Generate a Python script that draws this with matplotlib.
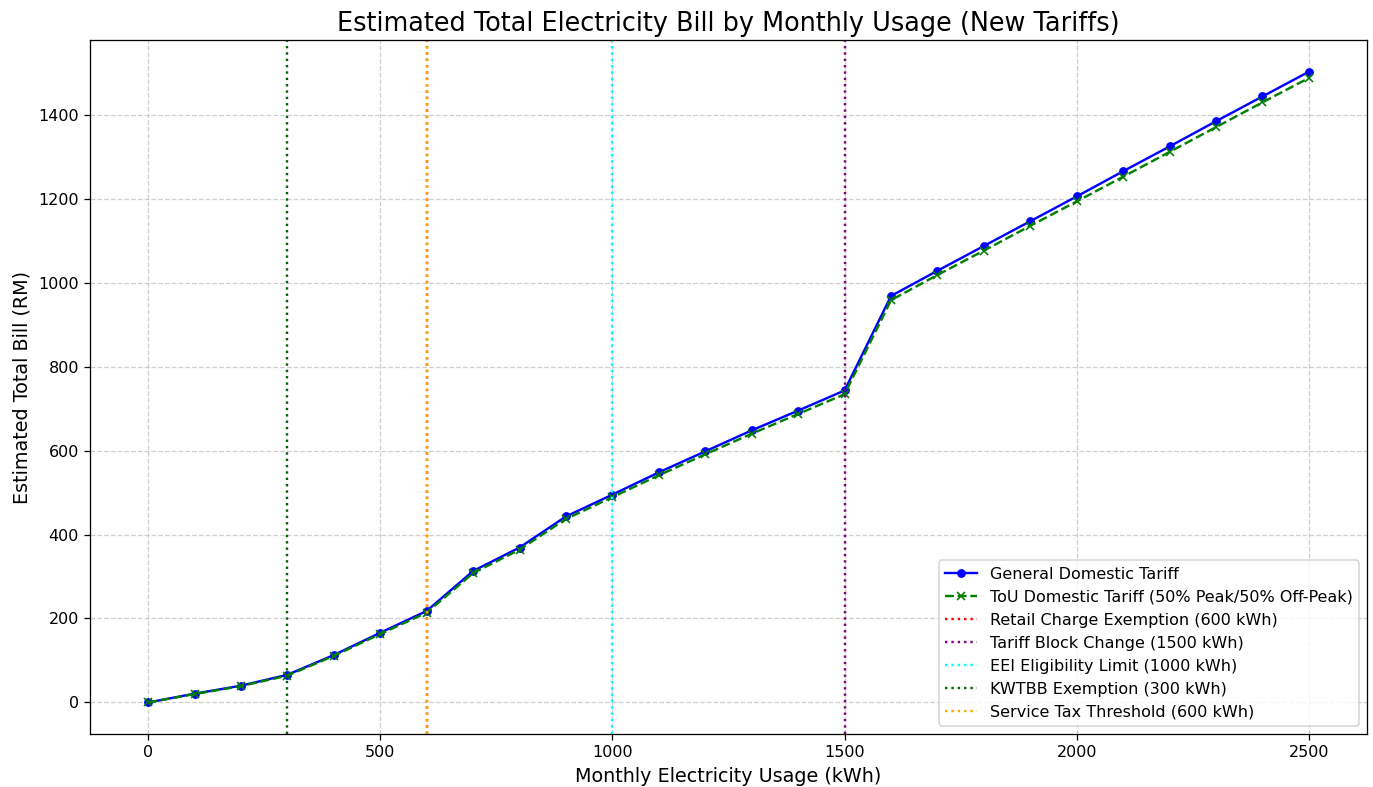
import numpy as np
import matplotlib.pyplot as plt

usage = [0, 100, 200, 300, 400, 500, 600, 700, 800, 900, 1000, 1100, 1200,
         1300, 1400, 1500, 1600, 1700, 1800, 1900, 2000, 2100, 2200, 2300, 2400, 2500]
general_bill = [0, 21, 40, 66, 113, 166, 218, 313, 369, 443, 495, 548, 598,
                648, 695, 743, 968, 1028, 1087, 1146, 1205, 1265, 1324, 1384, 1443, 1502]
tou_bill = [0, 20, 39, 64, 111, 163, 214, 308, 364, 437, 489, 541, 591,
            640, 687, 734, 958, 1018, 1076, 1135, 1193, 1252, 1311, 1370, 1429, 1487]

thresholds = [
    (600, 'red', 'Retail Charge Exemption (600 kWh)'),
    (1500, 'purple', 'Tariff Block Change (1500 kWh)'),
    (1000, 'cyan', 'EEI Eligibility Limit (1000 kWh)'),
    (300, 'darkgreen', 'KWTBB Exemption (300 kWh)'),
    (600, 'orange', 'Service Tax Threshold (600 kWh)'),
]

fig, ax = plt.subplots(figsize=(1373/115, 787/115), dpi=115)
fig.subplots_adjust(left=0.0656, right=0.9956, top=0.949, bottom=0.0673)

ax.plot(usage, general_bill, 'o-', color='blue', lw=1.5, ms=4.5, label='General Domestic Tariff')
ax.plot(usage, tou_bill, 'x--', color='green', lw=1.5, ms=4.5,
        label='ToU Domestic Tariff (50% Peak/50% Off-Peak)')
for x, c, lab in thresholds:
    ax.axvline(x, color=c, linestyle=':', lw=1.5, label=lab)

ax.set_title('Estimated Total Electricity Bill by Monthly Usage (New Tariffs)', fontsize=16)
ax.set_xlabel('Monthly Electricity Usage (kWh)', fontsize=12)
ax.set_ylabel('Estimated Total Bill (RM)', fontsize=12)
ax.grid(True, linestyle='--', alpha=0.6)
ax.legend(loc='lower right', fontsize=10)
plt.savefig('out.png')
